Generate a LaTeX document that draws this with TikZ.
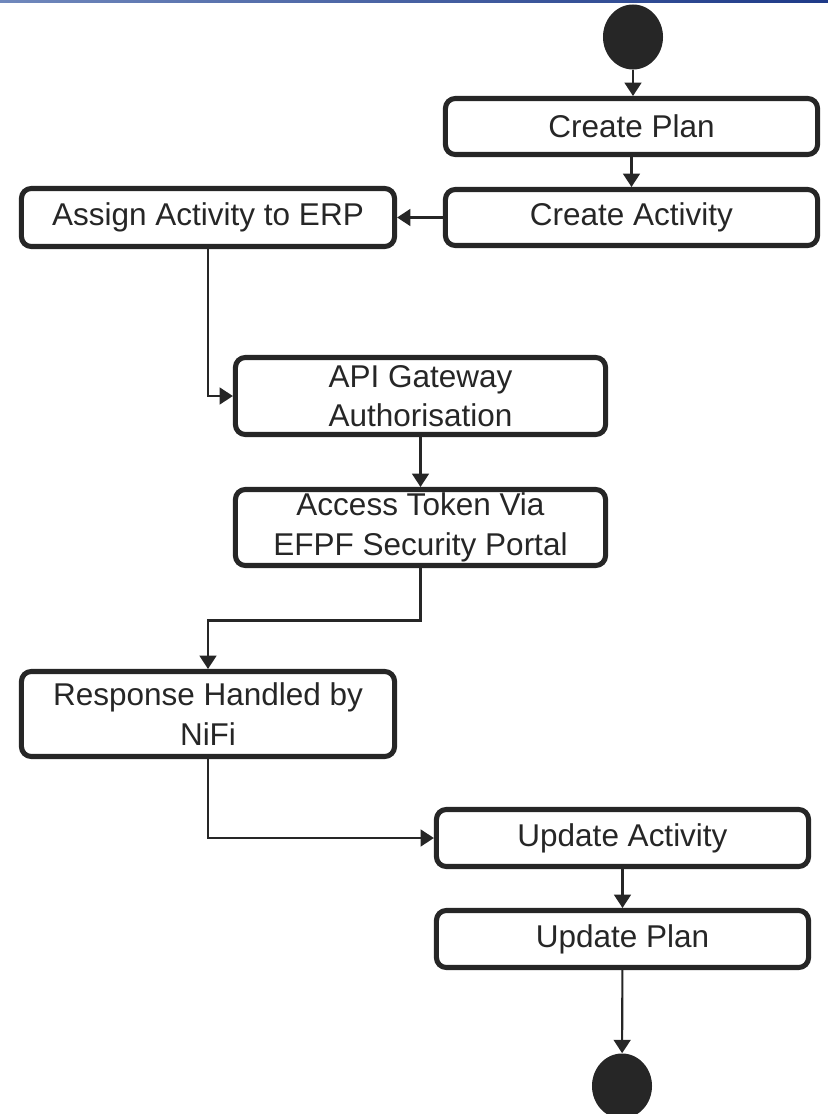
\documentclass[tikz,border=0pt]{standalone}
\usepackage{fontspec}
\setmainfont{Liberation Sans}
\usetikzlibrary{arrows.meta,shapes.geometric}
\definecolor{ink}{HTML}{262626}
\definecolor{bandL}{HTML}{7088BC}
\definecolor{bandR}{HTML}{1E3A88}

\begin{document}
\begin{tikzpicture}[x=0.025cm, y=-0.025cm,
  font=\fontsize{22.4}{28}\selectfont, color=ink,
  act/.style={draw, line width=3.6pt, rounded corners=7pt, align=center,
    minimum width=9.3cm, minimum height=1.4cm, inner sep=0pt},
  dot/.style={ellipse, fill=ink, minimum width=1.5cm, minimum height=1.625cm, inner sep=0pt},
  flow/.style={line width=1.5pt, -{Triangle[length=9.5pt,width=12pt]}}]
\useasboundingbox (0,0) rectangle (828,1114);
\shade[left color=bandL, right color=bandR] (0,0) rectangle (828,2);
% Start / end
\node[dot] (start) at (633,37) {};
\node[dot] (stop) at (622,1086) {};
% Activities
\node[act] (plan) at (631.5,126.5) {Create Plan};
\node[act] (activity) at (631.5,217.5) {Create Activity};
\node[act, minimum width=9.325cm, minimum height=1.45cm] (assign) at (208,217.5) {Assign Activity to ERP};
\node[act, minimum width=9.25cm, minimum height=1.925cm] (gateway) at (420.5,396) {API Gateway\\Authorisation};
\node[act, minimum width=9.25cm, minimum height=1.9cm] (token) at (420.5,527.5) {Access Token Via\\EFPF Security Portal};
\node[act, minimum width=9.325cm, minimum height=2.125cm] (nifi) at (208,714) {Response Handled by\\NiFi};
\node[act, minimum height=1.425cm] (updact) at (622.5,838) {Update Activity};
\node[act, minimum height=1.425cm] (updplan) at (622.5,939) {Update Plan};
% Flow
\draw[flow] (start.south) -- (start.south |- plan.north);
\draw[flow] (plan) -- (activity);
\draw[flow] (activity) -- (assign);
\draw[flow] (assign.south) |- (gateway.west);
\draw[flow] (gateway) -- (token);
\draw[flow] (token.south) -- ++(0,52.5) -| (nifi.north);
\draw[flow] (nifi.south) |- (updact.west);
\draw[flow] (updact) -- (updplan);
\draw[flow] (updplan) -- (stop);
\end{tikzpicture}
\end{document}
